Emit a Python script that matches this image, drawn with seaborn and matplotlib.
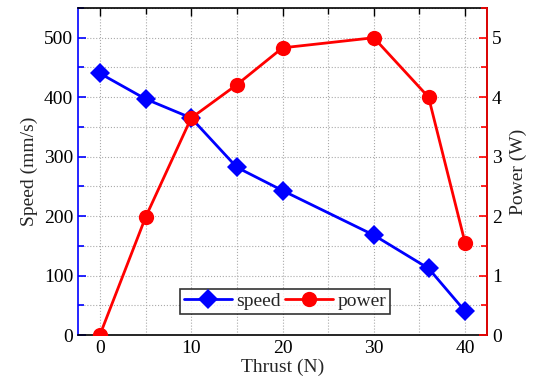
import matplotlib
matplotlib.use("Agg")
import matplotlib.pyplot as plt
import seaborn as sns
import pandas as pd
from matplotlib.ticker import MultipleLocator

thrust = [0, 5, 10, 15, 20, 30, 36, 40]
speed = [440, 397, 365, 282, 243, 168, 112, 40]
power = [0, 1.98, 3.65, 4.21, 4.83, 5.0, 4.0, 1.55]

df = pd.DataFrame({"thrust": thrust, "speed": speed, "power": power})

sns.set_theme(style="white")
plt.rcParams['font.family'] = ['Liberation Serif', 'DejaVu Serif']

FS = 14
fig = plt.figure(figsize=(5.36, 3.83), dpi=100)
ax = fig.add_axes([78/536, 1-335/383, (487-78)/536, (335-8)/383])
ax2 = ax.twinx()

sns.lineplot(data=df, x="thrust", y="speed", ax=ax, color="blue", marker="D",
             markersize=10, linewidth=2, markeredgewidth=0, label="speed", legend=False)
sns.lineplot(data=df, x="thrust", y="power", ax=ax2, color="red", marker="o",
             markersize=11, linewidth=2, markeredgewidth=0, label="power", legend=False)

ax.set_xlim(-2.4, 42.4)
ax.set_ylim(0, 550)
ax2.set_ylim(0, 5.5)
ax.xaxis.set_major_locator(MultipleLocator(10))
ax.xaxis.set_minor_locator(MultipleLocator(5))
ax.yaxis.set_major_locator(MultipleLocator(100))
ax.yaxis.set_minor_locator(MultipleLocator(50))
ax2.yaxis.set_major_locator(MultipleLocator(1))
ax2.yaxis.set_minor_locator(MultipleLocator(0.5))

ax.grid(True, which="both", linestyle=":", color="#aaaaaa", linewidth=0.8)
ax.set_axisbelow(True)

for s in ax.spines.values():
    s.set_color("black"); s.set_linewidth(1.2)
ax.spines["left"].set_color("blue")
ax2.spines["left"].set_visible(False)
ax2.spines["right"].set_color("red")
ax2.spines["right"].set_linewidth(1.2)
ax2.spines["top"].set_visible(False)
ax2.spines["bottom"].set_visible(False)

ax.tick_params(axis="x", which="both", direction="in", top=True, colors="black", labelsize=FS)
ax.tick_params(axis="x", which="major", length=6, width=1)
ax.tick_params(axis="x", which="minor", length=4, width=1)
ax.tick_params(axis="y", which="both", direction="in", color="blue", labelcolor="black", labelsize=FS)
ax.tick_params(axis="y", which="major", length=6, width=1.2)
ax.tick_params(axis="y", which="minor", length=4, width=1.2)
ax2.tick_params(axis="y", which="both", direction="in", color="red", labelcolor="black", labelsize=FS)
ax2.tick_params(axis="y", which="major", length=6, width=1.2)
ax2.tick_params(axis="y", which="minor", length=4, width=1.2)

ax.set_xlabel("Thrust (N)", fontsize=FS, labelpad=1)
ax.set_ylabel("Speed (mm/s)", fontsize=FS, labelpad=4)
ax2.set_ylabel("Power (W)", fontsize=FS, labelpad=6)

h1, l1 = ax.get_legend_handles_labels()
h2, l2 = ax2.get_legend_handles_labels()
leg = ax2.legend(h1 + h2, l1 + l2, loc="lower center", bbox_to_anchor=(0.506, 0.064), ncol=2,
                 fontsize=FS, frameon=True, fancybox=False, edgecolor="black",
                 handlelength=2.5, columnspacing=0.2, handletextpad=0.2, borderpad=0.2,
                 borderaxespad=0)
leg.get_frame().set_linewidth(1.2)

fig.savefig("out.png", dpi=100)
